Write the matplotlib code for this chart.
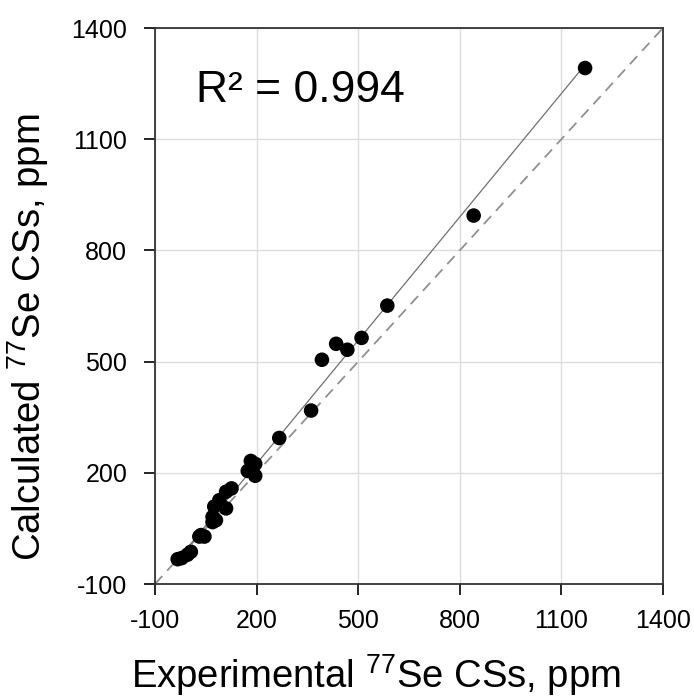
import numpy as np
import matplotlib
matplotlib.use("Agg")
import matplotlib.pyplot as plt

plt.rcParams['font.family'] = ['Liberation Sans', 'DejaVu Sans']
plt.rcParams['axes.unicode_minus'] = False
plt.rcParams['mathtext.fontset'] = 'custom'
plt.rcParams['mathtext.rm'] = 'Liberation Sans'

exp_ppm = [1170, 841, 586, 510, 468, 435, 393, 361, 267,
           183, 174, 196, 196, 126, 110, 90, 110, 75, 70, 70, 80,
           36, 31, 46, -21, -4, -33, 6]
calc_ppm = [1292, 894, 651, 564, 532, 548, 505, 368, 294,
            232, 205, 192, 224, 158, 149, 126, 104, 109, 81, 67, 72,
            32, 28, 28, -30, -21, -33, -13]
ticks = [-100, 200, 500, 800, 1100, 1400]
r2_text = "R² = 0.994"

fig = plt.figure(figsize=(6.94, 7.00), dpi=100)
ax = fig.add_axes([0.2233, 0.1657, 0.732, 0.7943])

x = np.array(exp_ppm, dtype=float)
y = np.array(calc_ppm, dtype=float)

ax.plot([-100, 1400], [-100, 1400], ls=(0, (6, 4)), color='#909090', lw=1.3, zorder=2)
k, b = np.polyfit(x, y, 1)
xl = np.array([x.min(), x.max()])
ax.plot(xl, k * xl + b, color='#707070', lw=0.9, zorder=2)
ax.scatter(x, y, s=110, color='black', zorder=3, edgecolors='none')

ax.set_xlim(-100, 1400)
ax.set_ylim(-100, 1400)
ax.set_xticks(ticks)
ax.set_yticks(ticks)
ax.set_xticklabels([str(t) for t in ticks])
ax.set_yticklabels([str(t) for t in ticks])
ax.grid(True, color='#dcdcdc', lw=1.0, zorder=0)
ax.set_axisbelow(True)
ax.tick_params(direction='out', length=8, width=1.2, labelsize=18, colors='black')
ax.tick_params(axis='x', pad=10)
ax.tick_params(axis='y', pad=12)
for s in ax.spines.values():
    s.set_color('#333333')
    s.set_linewidth(1.3)

ax.text(0.08, 0.887, r2_text, transform=ax.transAxes, fontsize=32,
        ha='left', va='center')
ax.set_xlabel("Experimental $^{77}$Se CSs, ppm", fontsize=27.5)
ax.set_ylabel("Calculated $^{77}$Se CSs, ppm", fontsize=27.5)
ax.xaxis.set_label_coords(0.435, -0.122)
ax.yaxis.set_label_coords(-0.205, 0.444)

fig.savefig("out.png", dpi=100)
